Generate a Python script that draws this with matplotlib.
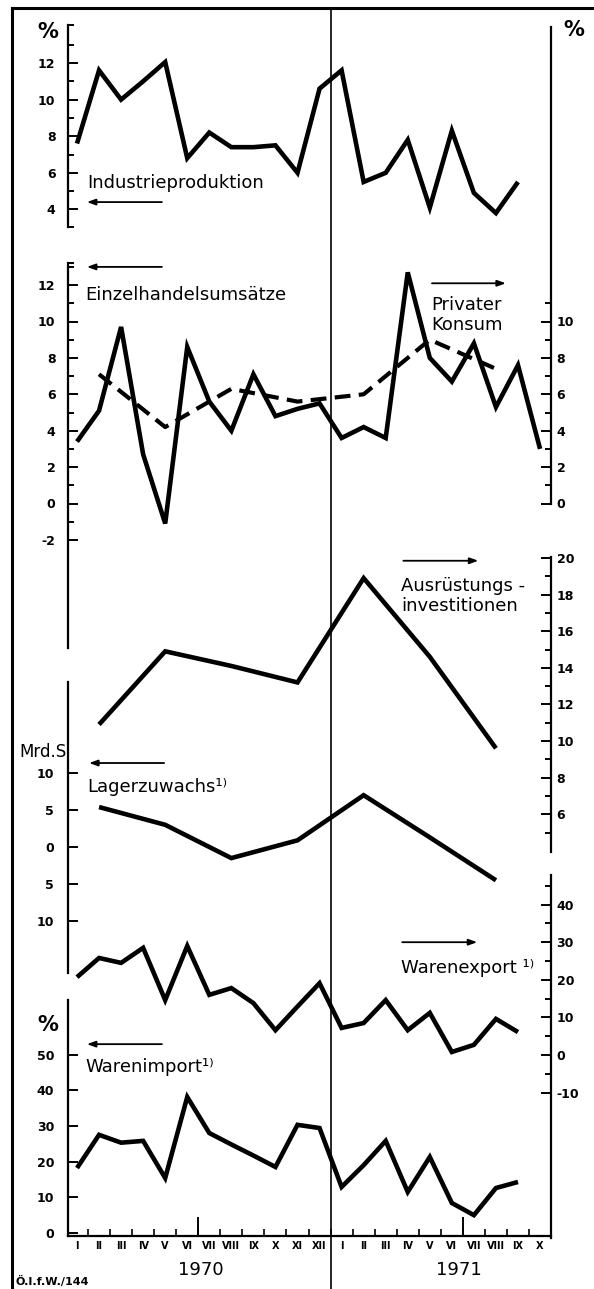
import matplotlib.pyplot as plt
from matplotlib import transforms

# months I 1970 .. X 1971 (index 0..21)
months = ['I', 'II', 'III', 'IV', 'V', 'VI', 'VII', 'VIII', 'IX', 'X', 'XI', 'XII',
          'I', 'II', 'III', 'IV', 'V', 'VI', 'VII', 'VIII', 'IX', 'X']
years = ['1970', '1971']

# monthly series, starting January 1970
industrie = [7.6, 11.6, 10.0, 11.0, 12.05, 6.8, 8.2, 7.4, 7.4, 7.5, 6.0, 10.6,
             11.6, 5.5, 6.0, 7.8, 4.1, 8.3, 4.9, 3.8, 5.5]
einzelhandel = [3.4, 5.1, 9.7, 2.7, -1.1, 8.6, 5.6, 4.0, 7.1, 4.8, 5.2, 5.5,
                3.6, 4.2, 3.6, 12.7, 8.0, 6.7, 8.8, 5.3, 7.6, 3.0]
warenexport = [20.7, 25.8, 24.5, 28.5, 14.6, 29.0, 16.0, 17.8, 13.8, 6.6, 12.9, 19.1,
               7.2, 8.5, 14.6, 6.6, 11.2, 0.8, 2.7, 9.6, 6.1]
warenimport = [18.2, 27.5, 25.3, 25.8, 15.4, 38.1, 28.0, 24.8, 21.7, 18.5, 30.3, 29.4,
               12.9, 19.0, 25.8, 11.5, 21.3, 8.4, 5.0, 12.6, 14.3]

# quarterly series, plotted at the middle month of each quarter
quarter_idx = [1, 4, 7, 10, 13, 16, 19]
konsum = [7.1, 4.2, 6.3, 5.6, 6.0, 9.0, 7.4]
ausruestung = [10.9, 14.9, 14.1, 13.2, 18.9, 14.6, 9.6]
lager = [5.4, 3.0, -1.5, 0.9, 7.0, 1.3, -4.5]

# ------------------------------------------------------------------ layout
W, H = 594, 1289
X_LEFT, X_RIGHT = 68, 551          # pixel columns of left / right axis lines
X_FIRST, X_STEP = 77, 22.05        # pixel column of first month, month width
XLIM = ((X_LEFT - X_FIRST) / X_STEP, (X_RIGHT - X_FIRST) / X_STEP)
LW = 3.3

fig = plt.figure(figsize=(W / 100, H / 100), dpi=100)

bg = fig.add_axes([0, 0, 1, 1], zorder=-1)
bg.set_xlim(0, W)
bg.set_ylim(H, 0)
bg.axis('off')


def scale_axes(top, bottom, ref_px, ref_val, px_per_unit, side, pad):
    ax = fig.add_axes([X_LEFT / W, 1 - bottom / H, (X_RIGHT - X_LEFT) / W, (bottom - top) / H])
    ax.set_xlim(XLIM)
    ax.set_ylim(ref_val - (bottom - ref_px) / px_per_unit,
                ref_val + (ref_px - top) / px_per_unit)
    ax.patch.set_visible(False)
    for name, sp in ax.spines.items():
        sp.set_visible(name == side)
        sp.set_linewidth(1.6)
    ax.xaxis.set_visible(False)
    ax.yaxis.set_ticks_position(side)
    ax.tick_params(axis='y', which='both', direction='in', width=1.4, pad=pad)
    ax.tick_params(axis='y', which='major', length=7)
    ax.tick_params(axis='y', which='minor', length=4)
    return ax


def ticks(ax, major, labels, minor):
    ax.set_yticks(major, labels=labels, fontsize=9, fontweight='bold')
    ax.set_yticks(minor, minor=True)


def arrow(ax, tail, head):
    ax.annotate('', xy=head, xytext=tail,
                arrowprops=dict(arrowstyle='-|>,head_length=0.5,head_width=0.18',
                                lw=1.3, color='black', shrinkA=0, shrinkB=0))


def label(ax, x, y, s, size=13):
    ax.text(x, y, s, fontsize=size, ha='left', va='center', linespacing=1.15)


line_kw = dict(color='black', lw=LW, solid_joinstyle='miter', solid_capstyle='butt',
               clip_on=False)

# ---------------------------------------------------- Industrieproduktion
ax1 = scale_axes(25, 227, 63, 12, 18.3, 'left', 9)
lo, hi = ax1.get_ylim()
ticks(ax1, [4, 6, 8, 10, 12], ['4', '6', '8', '10', '12'], [lo, 5, 7, 9, 11, 13, hi])
ax1.plot(range(len(industrie)), industrie, **line_kw)
label(ax1, 0.45, 5.45, 'Industrieproduktion')
arrow(ax1, (3.85, 4.4), (0.45, 4.4))
ax1.text(XLIM[0] - 0.45, 13.7, '%', fontsize=15, fontweight='bold', ha='right', va='center')

# ---------------------------------- Einzelhandelsumsätze / Privater Konsum
ax2 = scale_axes(263, 648, 503.5, 0, 18.2, 'left', 9)
hi = ax2.get_ylim()[1]
ticks(ax2, list(range(-2, 13, 2)), [str(v) for v in range(-2, 13, 2)],
      list(range(-1, 14, 2)) + [hi])
ax2.plot(range(len(einzelhandel)), einzelhandel, **line_kw)
label(ax2, 0.36, 11.45, 'Einzelhandelsumsätze')
arrow(ax2, (3.85, 13.0), (0.45, 13.0))

ax2r = scale_axes(27, 504, 503.5, 0, 18.2, 'right', 4)
ticks(ax2r, list(range(0, 11, 2)), [str(v) for v in range(0, 11, 2)], list(range(1, 12, 2)))
ax2r.plot(quarter_idx, konsum, color='black', lw=3.0, ls=(0, (3.8, 2.0)),
          dash_capstyle='butt', clip_on=False)
label(ax2r, 16.05, 10.35, 'Privater\nKonsum')
arrow(ax2r, (16.1, 12.1), (19.45, 12.1))
fig.text(574 / W, 1 - 30 / H, '%', fontsize=15, fontweight='bold', ha='center', va='center')

# ------------------------------- Ausrüstungsinvestitionen / Lagerzuwachs
ax3r = scale_axes(557, 852, 558, 20, 18.3, 'right', 4)
ticks(ax3r, list(range(6, 21, 2)), [str(v) for v in range(6, 21, 2)], list(range(5, 20, 2)))
ax3r.plot(quarter_idx, ausruestung, **line_kw)
label(ax3r, 14.7, 17.9, 'Ausrüstungs -\ninvestitionen')
arrow(ax3r, (14.8, 19.85), (18.2, 19.85))

ax3l = scale_axes(682, 973, 847, 0, 7.4, 'left', 10)
ticks(ax3l, [10, 5, 0, -5, -10], ['10', '5', '0', '5', '10'], [])
ax3l.plot(quarter_idx, lager, **line_kw)
label(ax3l, 0.45, 8.1, 'Lagerzuwachs¹⁾')
arrow(ax3l, (3.95, 11.35), (0.55, 11.35))
ax3l.text(XLIM[0] - 0.08, 12.8, 'Mrd.S', fontsize=12, ha='right', va='center')

# ---------------------------------------------- Warenexport / Warenimport
ax4r = scale_axes(875, 1238, 1055, 0, 3.76, 'right', 4)
ticks(ax4r, [40, 30, 20, 10, 0, -10], ['40', '30', '20', '10', '0', '-10'],
      [45, 35, 25, 15, 5, -5])
ax4r.plot(range(len(warenexport)), warenexport, **line_kw)
label(ax4r, 14.7, 23.1, 'Warenexport ¹⁾')
arrow(ax4r, (14.75, 30.0), (18.15, 30.0))

ax4 = scale_axes(1000, 1236, 1233, 0, 3.57, 'left', 10)
ticks(ax4, [0, 10, 20, 30, 40, 50], ['0', '10', '20', '30', '40', '50'], [])
ax4.plot(range(len(warenimport)), warenimport, **line_kw)
label(ax4, 0.36, 46.5, 'Warenimport¹⁾')
arrow(ax4, (3.85, 52.9), (0.45, 52.9))
ax4.text(XLIM[0] - 0.45, 58.3, '%', fontsize=15, fontweight='bold', ha='right', va='center')

# month axis
ax4.xaxis.set_visible(True)
ax4.spines['bottom'].set_visible(True)
ax4.spines['bottom'].set_linewidth(1.6)
ax4.set_xticks(range(len(months)), labels=months, fontsize=7, fontweight='bold')
ax4.set_xticks([i + 0.5 for i in range(len(months) - 1)], minor=True)
ax4.tick_params(axis='x', which='major', length=0, pad=3.5)
ax4.tick_params(axis='x', which='minor', direction='in', length=5, width=1.2)
base = ax4.get_ylim()[0]
ax4.vlines([5.5, 17.5], base, base + 5.2, color='black', lw=1.4)

# year labels, frame and divider
tr = transforms.blended_transform_factory(ax4.transData, bg.transData)
bg.text(5.6, 1270, years[0], transform=tr, fontsize=13, ha='center', va='center')
bg.text(17.3, 1270, years[1], transform=tr, fontsize=13, ha='center', va='center')
bg.plot([11.5, 11.5], [8, H], transform=tr, color='black', lw=1.2)
bg.plot([12, 12], [8, H], color='black', lw=2.2)
bg.plot([12, W], [8, 8], color='black', lw=2.2)
bg.text(15, 1281, 'Ö.I.f.W./144', fontsize=8, fontweight='bold', ha='left', va='center')

fig.savefig('out.png', dpi=100)
